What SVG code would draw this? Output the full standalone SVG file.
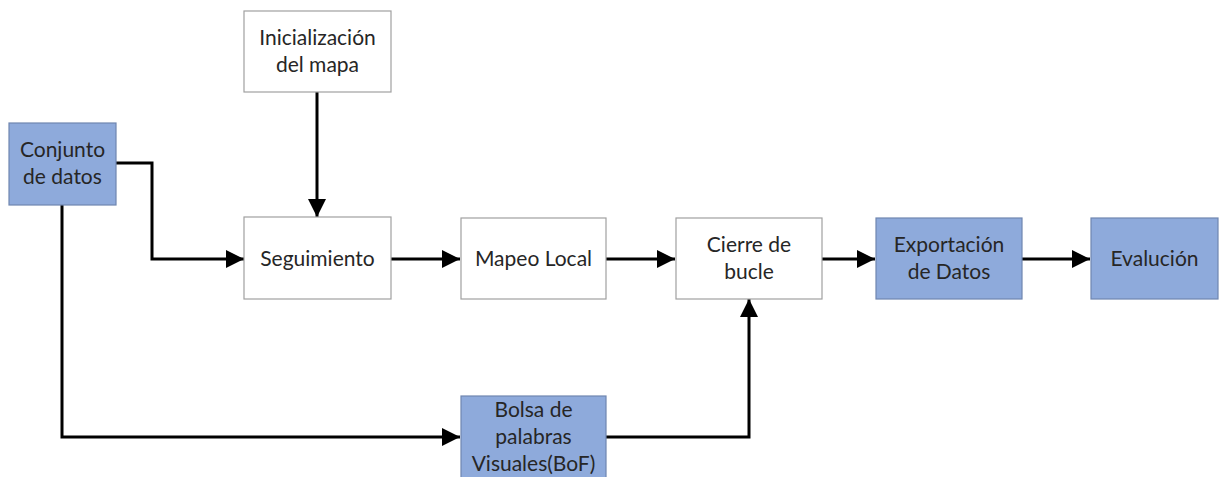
<svg xmlns="http://www.w3.org/2000/svg" width="1221" height="477" viewBox="0 0 1221 477">
<style>
.w{fill:#ffffff;stroke:#a0a0a0;stroke-width:1.2}
.b{fill:#8eaadb;stroke:#6f86b0;stroke-width:1.2}
text{font-family:Lato,"Open Sans",sans-serif;font-size:21px;fill:#262626;text-anchor:middle}
.c{fill:none;stroke:#000;stroke-width:3}
</style>
<defs>
<marker id="ah" viewBox="0 0 10 10" refX="10" refY="5" markerWidth="6.5" markerHeight="6" markerUnits="strokeWidth" orient="auto">
<path d="M0,0 L10,5 L0,10 z" fill="#000"/>
</marker>
</defs>
<g id="connectors">
<path class="c" d="M116,163 H152 V259 H244" marker-end="url(#ah)"/>
<path class="c" d="M62,205 V437 H460" marker-end="url(#ah)"/>
<path class="c" d="M317,92 V217" marker-end="url(#ah)"/>
<path class="c" d="M391,259 H460" marker-end="url(#ah)"/>
<path class="c" d="M606,259 H675" marker-end="url(#ah)"/>
<path class="c" d="M822,259 H875" marker-end="url(#ah)"/>
<path class="c" d="M1022,259 H1090" marker-end="url(#ah)"/>
<path class="c" d="M606,437 H749 V299" marker-end="url(#ah)"/>
</g>
<g id="conjunto"><rect class="b" x="9" y="123" width="107" height="82"/><text x="62.5" y="157">Conjunto</text><text x="62.5" y="184">de datos</text></g>
<g id="inicializacion"><rect class="w" x="244" y="11" width="147" height="81"/><text x="317.5" y="45">Inicialización</text><text x="317.5" y="72">del mapa</text></g>
<g id="seguimiento"><rect class="w" x="244" y="217" width="147" height="82"/><text x="317.5" y="266">Seguimiento</text></g>
<g id="mapeo"><rect class="w" x="461" y="218" width="145" height="81"/><text x="533.5" y="266">Mapeo Local</text></g>
<g id="cierre"><rect class="w" x="676" y="218" width="146" height="81"/><text x="749" y="252">Cierre de</text><text x="749" y="279">bucle</text></g>
<g id="exportacion"><rect class="b" x="876" y="218" width="146" height="81"/><text x="949" y="252">Exportación</text><text x="949" y="279">de Datos</text></g>
<g id="evaluacion"><rect class="b" x="1091" y="218" width="127" height="81"/><text x="1154.5" y="266">Evalución</text></g>
<g id="bolsa"><rect class="b" x="461" y="396" width="145" height="90"/><text x="533.5" y="417">Bolsa de</text><text x="533.5" y="444">palabras</text><text x="533.5" y="471">Visuales(BoF)</text></g>
</svg>
